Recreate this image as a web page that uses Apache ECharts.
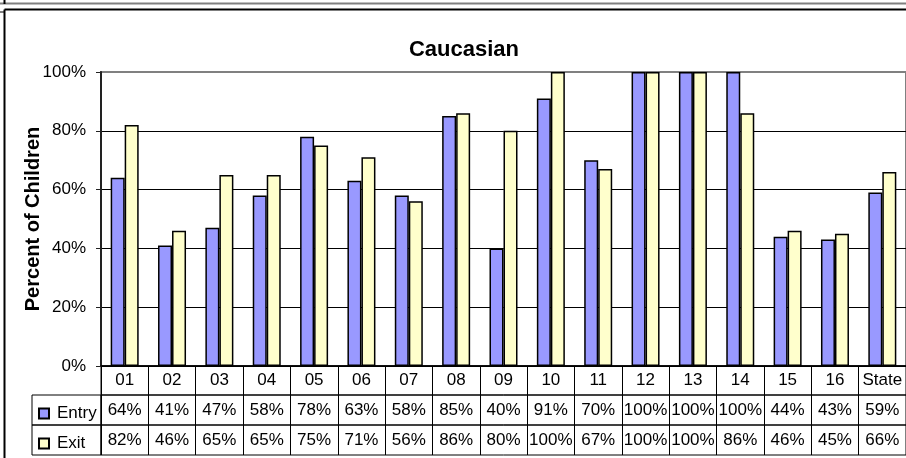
<!DOCTYPE html>
<html>
<head>
<meta charset="utf-8">
<script src="https://cdn.jsdelivr.net/npm/echarts@6/dist/echarts.min.js"></script>
<style>
  html, body { margin: 0; padding: 0; background: #fff; }
  #main { width: 906px; height: 458px; }
</style>
</head>
<body>
<div id="main"></div>
<script>
var categories = ['01', '02', '03', '04', '05', '06', '07', '08', '09', '10', '11', '12', '13', '14', '15', '16', 'State'];
var entry = [64, 41, 47, 58, 78, 63, 58, 85, 40, 91, 70, 100, 100, 100, 44, 43, 59];
var exit = [82, 46, 65, 65, 75, 71, 56, 86, 80, 100, 67, 100, 100, 86, 46, 45, 66];
var yTicks = [0, 20, 40, 60, 80, 100];

var myChart = echarts.init(document.getElementById('main'));
var font = 'Arial, "Liberation Sans", sans-serif';

var plotLeft = 101, plotWidth = 810;
var pct = function (v) { return v + '%'; };

// table rows built from the arrays
function rowGrid(top, height) {
    return { left: plotLeft, top: top, width: plotWidth, height: height, show: true, borderColor: '#000', borderWidth: 1 };
}
function rowAxis(idx, data, height) {
    return {
        type: 'category', gridIndex: idx, data: data, position: 'bottom',
        axisLine: { show: false }, axisTick: { show: false },
        splitLine: { show: true, interval: 0, lineStyle: { color: '#000', width: 1 } },
        axisLabel: { interval: 0, margin: -height / 2, verticalAlign: 'middle', color: '#000', fontFamily: font, fontSize: 17 }
    };
}
function legendRow(name, top) {
    return {
        data: [{ name: name, icon: 'rect' }], orient: 'vertical', left: 33, top: top, itemWidth: 10, itemHeight: 10,
        textStyle: { fontFamily: font, fontSize: 17, color: '#000', padding: [0, 0, 0, 3] }, selectedMode: false
    };
}

option = {
    animation: false,
    backgroundColor: '#fff',
    title: {
        text: 'Caucasian', left: 459, top: 34, textAlign: 'center',
        textStyle: { fontFamily: font, fontSize: 22, fontWeight: 'bold', color: '#000' }
    },
    legend: [legendRow('Entry', 400), legendRow('Exit', 430)],
    grid: [
        { left: plotLeft, top: 72, width: plotWidth, height: 294, show: true, borderColor: '#808080', borderWidth: 2 },
        rowGrid(366, 29),
        rowGrid(395, 30),
        rowGrid(425, 30)
    ],
    xAxis: [
        { type: 'category', gridIndex: 0, data: categories,
          axisLine: { lineStyle: { color: '#000', width: 1.5 } }, axisTick: { show: false }, axisLabel: { show: false } },
        rowAxis(1, categories, 29),
        rowAxis(2, entry.map(pct), 30),
        rowAxis(3, exit.map(pct), 30)
    ],
    yAxis: [
        { type: 'value', gridIndex: 0, min: yTicks[0], max: yTicks[yTicks.length - 1], interval: 20,
          name: 'Percent of Children', nameLocation: 'middle', nameGap: 58, nameRotate: 90, nameMoveOverlap: false,
          nameTextStyle: { fontFamily: font, fontSize: 20, fontWeight: 'bold', color: '#000' },
          axisLine: { show: true, lineStyle: { color: '#222', width: 2 } },
          axisTick: { show: true, length: 5, lineStyle: { color: '#222' } },
          axisLabel: { formatter: '{value}%', margin: 15, color: '#000', fontFamily: font, fontSize: 17 },
          splitLine: { show: true, lineStyle: { color: ['#000', '#000', '#000', '#000', '#000', '#808080'], width: 1 } } },
        { type: 'value', gridIndex: 1, show: false },
        { type: 'value', gridIndex: 2, show: false },
        { type: 'value', gridIndex: 3, show: false }
    ],
    series: [
        { name: 'Entry', type: 'bar', data: entry, barWidth: 14, barGap: '0%',
          itemStyle: { color: '#9999FF', borderColor: '#000', borderWidth: 1.5 } },
        { name: 'Exit', type: 'bar', data: exit, barWidth: 14, barGap: '0%',
          itemStyle: { color: '#FFFFCC', borderColor: '#000', borderWidth: 1.5 } }
    ],
    graphic: [
        // sheet / chart frame
        { type: 'line', shape: { x1: 0, y1: 3.5, x2: 906, y2: 3.5 }, style: { stroke: '#808080', lineWidth: 2 } },
        { type: 'line', shape: { x1: 4.5, y1: 0, x2: 4.5, y2: 4 }, style: { stroke: '#000', lineWidth: 2 } },
        { type: 'line', shape: { x1: 4.5, y1: 9.5, x2: 906, y2: 9.5 }, style: { stroke: '#000', lineWidth: 2 } },
        { type: 'line', shape: { x1: 4.5, y1: 9.5, x2: 4.5, y2: 458 }, style: { stroke: '#000', lineWidth: 2 } },
        { type: 'line', shape: { x1: 0, y1: 12, x2: 4, y2: 12 }, style: { stroke: '#000', lineWidth: 1 } },
        // legend key cells of the data table
        { type: 'rect', shape: { x: 32, y: 395, width: 69, height: 30 }, style: { fill: 'none', stroke: '#000', lineWidth: 1 } },
        { type: 'rect', shape: { x: 32, y: 425, width: 69, height: 30 }, style: { fill: 'none', stroke: '#000', lineWidth: 1 } }
    ]
};

myChart.setOption(option);
</script>
</body>
</html>
